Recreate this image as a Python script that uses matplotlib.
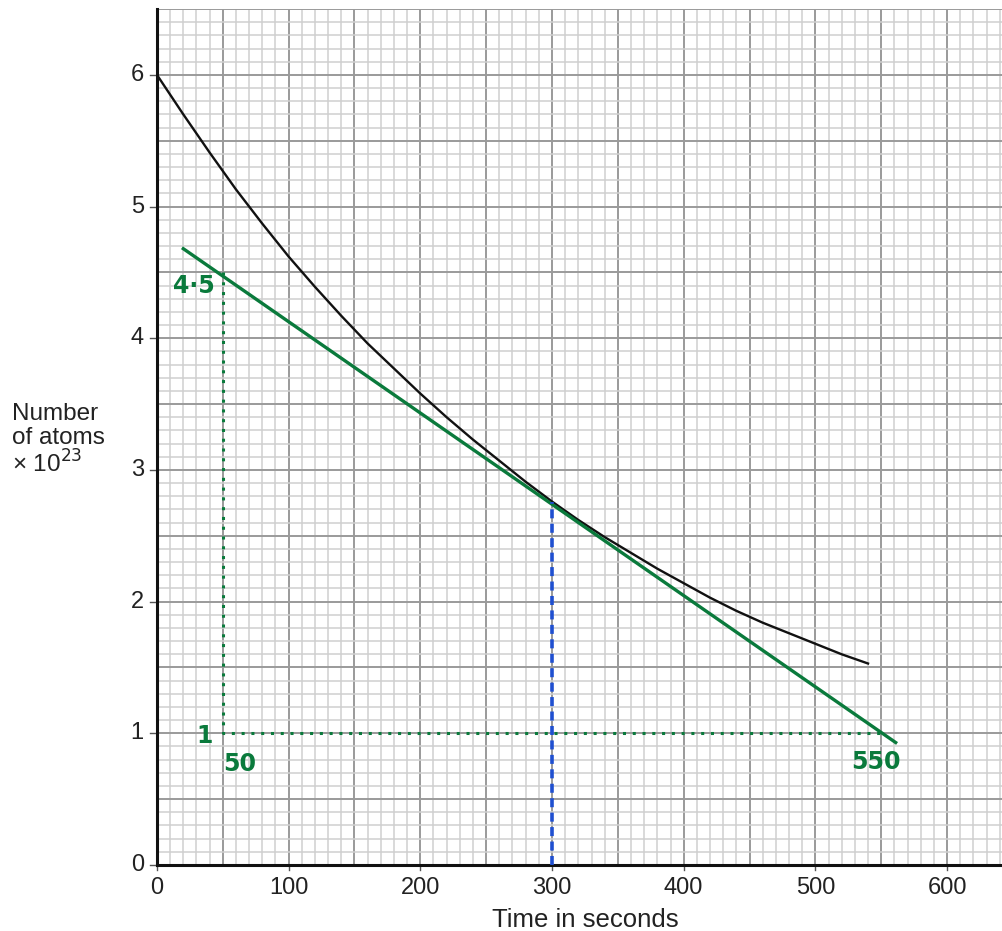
import matplotlib.pyplot as plt
import numpy as np
from matplotlib.ticker import MultipleLocator

# ==========================================================
# DATA
# ==========================================================

time_s = [0, 20, 40, 60, 80, 100, 120, 140, 160, 180, 200, 220, 240, 260,
          280, 300, 320, 340, 360, 380, 400, 420, 440, 460, 480, 500, 520, 540]
atoms = [6.00, 5.70, 5.41, 5.13, 4.87, 4.62, 4.39, 4.17, 3.96, 3.77, 3.58,
         3.40, 3.23, 3.07, 2.91, 2.76, 2.62, 2.49, 2.37, 2.25, 2.14, 2.03,
         1.93, 1.84, 1.76, 1.68, 1.60, 1.53]

tangent_x = [20, 561]
tangent_y = [4.68, 0.93]

triangle_x = [50, 50, 550]
triangle_y = [4.5, 1.0, 1.0]

half_x = [300, 300]
half_y = [0, 2.76]

x_ticks = [0, 100, 200, 300, 400, 500, 600]
y_ticks = [0, 1, 2, 3, 4, 5, 6]

notes = ["4·5", "1", "50", "550"]
notes_x = [28, 36, 63, 546]
notes_y = [4.4, 0.98, 0.77, 0.78]

GREEN = "#0a7a3c"
BLUE = "#1f4fd0"

# ==========================================================
# FIGURE
# ==========================================================

plt.rcParams["font.family"] = ["Liberation Sans", "DejaVu Sans"]

fig = plt.figure(figsize=(10.03, 9.31), dpi=100)
ax = fig.add_axes([0.1565, 0.0709, 0.8435, 0.9194])

ax.set_xlim(0, 642.5)
ax.set_ylim(0, 6.5)

ax.xaxis.set_major_locator(MultipleLocator(50))
ax.xaxis.set_minor_locator(MultipleLocator(10))
ax.yaxis.set_major_locator(MultipleLocator(0.5))
ax.yaxis.set_minor_locator(MultipleLocator(0.1))

ax.grid(which="minor", color="#cfcfcf", linewidth=1.1)
ax.grid(which="major", color="#9a9a9a", linewidth=1.4)
ax.set_axisbelow(True)

# tick labels only every 100 s / 1 unit
ax.tick_params(which="both", length=0, labelbottom=False, labelleft=False)
for xt in x_ticks:
    ax.text(xt, -0.09, str(xt), ha="center", va="top", fontsize=17,
            color="#222222")
    ax.plot([xt, xt], [0, -0.04], color="#555555", lw=1, clip_on=False)
for yt in y_ticks:
    ax.text(-10, yt, str(yt), ha="right", va="center", fontsize=17,
            color="#222222")
    ax.plot([0, -5], [yt, yt], color="#555555", lw=1, clip_on=False)

for side in ["top", "right"]:
    ax.spines[side].set_visible(False)
ax.spines["left"].set_linewidth(2.2)
ax.spines["bottom"].set_linewidth(2.2)
ax.spines["left"].set_color("#111111")
ax.spines["bottom"].set_color("#111111")

# ==========================================================
# LINES
# ==========================================================

ax.plot(time_s, atoms, color="#111111", linewidth=1.7, zorder=4)

ax.plot(tangent_x, tangent_y, color=GREEN, linewidth=2.4, zorder=5)

ax.plot(triangle_x, triangle_y, color=GREEN, linewidth=2.2,
        linestyle=(0, (1, 2.2)), zorder=5)

ax.plot(half_x, half_y, color=BLUE, linewidth=2.6,
        linestyle=(0, (2.5, 1.5)), zorder=6)

for txt, nx, ny in zip(notes, notes_x, notes_y):
    ax.text(nx, ny, txt, color=GREEN, fontsize=17, fontweight="bold",
            ha="center", va="center", family=["DejaVu Sans"], zorder=7)

# ==========================================================
# LABELS
# ==========================================================

fig.text(0.012, 0.527, "Number\nof atoms\n× 10$^{23}$", ha="left",
         va="center", fontsize=17.5, color="#222222", linespacing=1.1)

fig.text(0.584, 0.025, "Time in seconds", ha="center", va="top",
         fontsize=18.5, color="#222222")

fig.savefig("out.png", dpi=100, facecolor="white")
